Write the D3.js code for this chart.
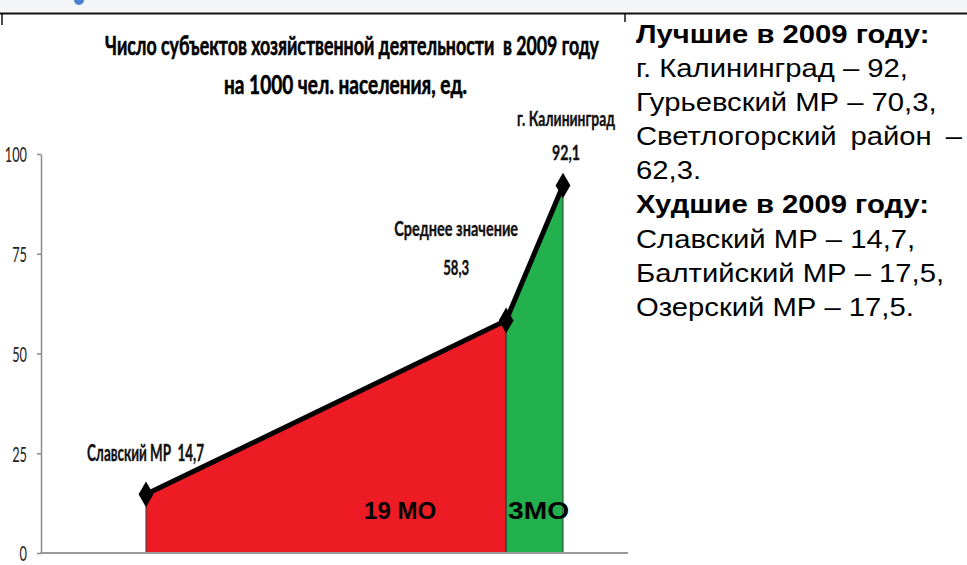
<!DOCTYPE html>
<html>
<head>
<meta charset="utf-8">
<script src="https://cdn.jsdelivr.net/npm/d3@7"></script>
<style>
body { margin: 0; background: #fff; }
svg { display: block; }
text { white-space: pre; }
</style>
</head>
<body>
<div id="chart"></div>
<script>
// Data

var pointNames = ['Славский МР', 'Среднее значение', 'г. Калининград'];
var pointPos = [0, 19, 22];          // порядковый номер МО
var pointValues = [14.7, 58.3, 92.1];
var groupLabels = ['19 МО', '3МО'];
var yTicks = [0, 25, 50, 75, 100];
var titleLines = ['Число субъектов хозяйственной деятельности  в 2009 году', 'на 1000 чел. населения, ед.'];
var bestHeader = 'Лучшие в 2009 году:';
var bestLines = ['г. Калининград – 92,', 'Гурьевский МР – 70,3,', 'Светлогорский район –', '62,3.'];
var worstHeader = 'Худшие в 2009 году:';
var worstLines = ['Славский МР – 14,7,', 'Балтийский МР – 17,5,', 'Озерский МР – 17,5.'];

// Config

var width = 967, height = 565;
var chartFont = 'Lato, "Open Sans", sans-serif';
var panelFont = '"Liberation Sans", Arial, sans-serif';

var points = pointPos.map((p, i) => ({ pos: p, value: pointValues[i], name: pointNames[i] }));

var svg = d3.select('#chart').append('svg')
	.attr('width', width)
	.attr('height', height);

// top strip of the slide
svg.append('rect').attr('x', 0).attr('y', 0).attr('width', width).attr('height', 11).attr('fill', '#f3f5f9');
svg.append('circle').attr('cx', 79).attr('cy', 0).attr('r', 5).attr('fill', '#4b82d6');
svg.append('line').attr('x1', 0).attr('x2', width).attr('y1', 13.5).attr('y2', 13.5)
	.attr('stroke', '#111').attr('stroke-width', 2);
svg.append('line').attr('x1', 2).attr('x2', 2).attr('y1', 13).attr('y2', 25).attr('stroke', '#111').attr('stroke-width', 1.5);
svg.append('line').attr('x1', 625).attr('x2', 625).attr('y1', 13).attr('y2', 22).attr('stroke', '#111').attr('stroke-width', 1.5);

// scales
var x = d3.scaleLinear().domain([0, 22]).range([146, 563]);
var y = d3.scaleLinear().domain([0, 100]).range([553, 154]);

// helper: squeeze a text to the width seen on the slide
function fit(sel, w) {
	return sel.attr('textLength', w).attr('lengthAdjust', 'spacingAndGlyphs');
}

// title (a thin stroke makes it as heavy as on the slide)
var title = svg.append('g').attr('font-family', chartFont).attr('font-weight', 700)
	.attr('font-size', 27).attr('fill', '#000')
	.attr('stroke', '#000').attr('stroke-width', 0.6);
fit(title.append('text').attr('x', 105).attr('y', 55).text(titleLines[0]), 494);
fit(title.append('text').attr('x', 224).attr('y', 94).text(titleLines[1]), 243);

// areas
var area = d3.area()
	.x(d => x(d.pos))
	.y0(y(0))
	.y1(d => y(d.value));

var segments = [
	{ pts: points.slice(0, 2), color: '#ed1c24' },
	{ pts: points.slice(1, 3), color: '#22b14c' }
];
svg.selectAll('.seg').data(segments).enter().append('path')
	.attr('class', 'seg')
	.attr('d', d => area(d.pts))
	.attr('fill', d => d.color)
	.attr('stroke', '#333')
	.attr('stroke-width', 1);

// axes
var yAxis = svg.append('g').attr('transform', `translate(${41},0)`)
	.call(d3.axisLeft(y).tickValues(yTicks).tickSize(4).tickSizeOuter(0).tickPadding(10));
yAxis.select('.domain').attr('stroke', '#8a8a8a').attr('stroke-width', 1.5);
yAxis.selectAll('.tick line').attr('stroke', '#8a8a8a').attr('stroke-width', 1.5);
yAxis.selectAll('.tick text')
	.attr('font-family', chartFont).attr('font-size', 22).attr('fill', '#222')
	.attr('dy', '0.36em')
	.attr('textLength', d => String(d).length * 7.4)
	.attr('lengthAdjust', 'spacingAndGlyphs');

svg.append('line')
	.attr('x1', 40).attr('x2', 628)
	.attr('y1', y(0)).attr('y2', y(0))
	.attr('stroke', '#999').attr('stroke-width', 2);

// line + markers
var line = d3.line().x(d => x(d.pos)).y(d => y(d.value));
svg.append('path')
	.attr('d', line(points))
	.attr('fill', 'none')
	.attr('stroke', '#000')
	.attr('stroke-width', 5);

svg.selectAll('.marker').data(points).enter().append('path')
	.attr('class', 'marker')
	.attr('transform', d => `translate(${x(d.pos)},${y(d.value)})`)
	.attr('d', d3.symbol(d3.symbolDiamond, 190))
	.attr('fill', '#000');

// point labels
var fmt = v => String(v).replace('.', ',');
var labels = svg.append('g').attr('font-family', chartFont).attr('font-weight', 700)
	.attr('font-size', 21).attr('fill', '#111')
	.attr('stroke', '#111').attr('stroke-width', 0.35);

var p0 = points[0], p1 = points[1], p2 = points[2];
fit(labels.append('text')
	.attr('x', x(p0.pos) - 59).attr('y', y(p0.value) - 33)
	.attr('font-size', 22)
	.text(`${p0.name}  ${fmt(p0.value)}`), 117);

fit(labels.append('text')
	.attr('x', x(p1.pos) - 50).attr('y', y(p1.value) - 84)
	.attr('text-anchor', 'middle')
	.text(p1.name), 124);
fit(labels.append('text')
	.attr('x', x(p1.pos) - 50).attr('y', y(p1.value) - 45)
	.attr('text-anchor', 'middle')
	.text(fmt(p1.value)), 26);

fit(labels.append('text')
	.attr('x', x(p2.pos) + 3).attr('y', y(p2.value) - 60)
	.attr('text-anchor', 'middle')
	.text(p2.name), 98);
fit(labels.append('text')
	.attr('x', x(p2.pos) + 3).attr('y', y(p2.value) - 26)
	.attr('text-anchor', 'middle')
	.text(fmt(p2.value)), 28);

// group labels
var groups = svg.append('g').attr('font-family', panelFont).attr('font-weight', 700)
	.attr('font-size', 24).attr('fill', '#000');
groups.append('text')
	.attr('x', x(pointPos[1]) - 70).attr('y', 519)
	.attr('text-anchor', 'end')
	.text(groupLabels[0]);
fit(groups.append('text')
	.attr('x', x(pointPos[1]) + 2).attr('y', 519)
	.text(groupLabels[1]), 61);

// right panel (text on the slide is a bit wider than plain Arial)
var panelX = 636, panelRight = 962, rowH = 34.1, sx = 1.17;
var panel = svg.append('g')
	.attr('transform', `translate(${panelX},0) scale(${sx},1)`)
	.attr('font-family', panelFont).attr('font-size', 25).attr('fill', '#000');
var panelRows = [{ text: bestHeader, bold: true }]
	.concat(bestLines.map(t => ({ text: t })))
	.concat([{ text: worstHeader, bold: true }])
	.concat(worstLines.map(t => ({ text: t })));

panel.selectAll('text').data(panelRows).enter().append('text')
	.attr('x', 0)
	.attr('y', (d, i) => 43 + i * rowH)
	.attr('font-weight', d => d.bold ? 700 : 400)
	.text(d => d.text)
	.each(function(d) {
		// wrapped lines are justified to the right edge
		if (/–$/.test(d.text)) {
			var spaces = d.text.split(' ').length - 1;
			var extra = ((panelRight - panelX) / sx - this.getComputedTextLength()) / spaces;
			d3.select(this).attr('word-spacing', extra);
		}
	});
</script>
</body>
</html>
